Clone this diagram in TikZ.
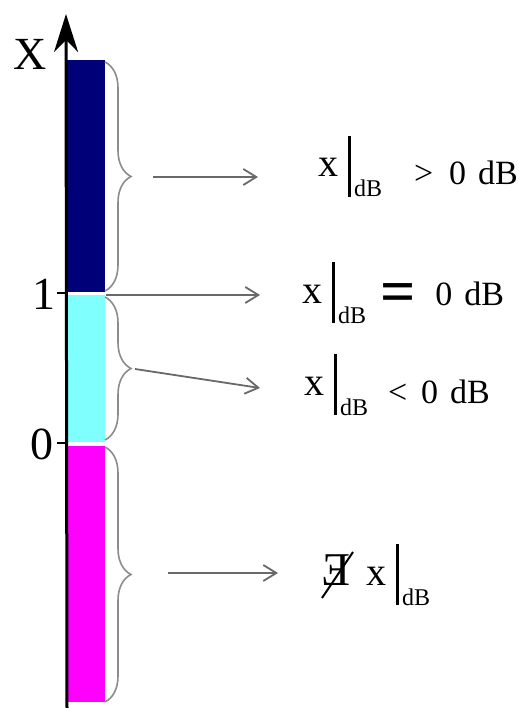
\documentclass[tikz,border=0pt]{standalone}
\usepackage{fontspec}
\setmainfont{Liberation Serif}
\usetikzlibrary{arrows.meta,decorations.pathreplacing}
\definecolor{barnavy}{RGB}{0,0,120}
\definecolor{barcyan}{RGB}{128,255,255}
\definecolor{barmag}{RGB}{255,0,255}
\definecolor{brgray}{RGB}{140,140,140}
\definecolor{argray}{RGB}{105,105,105}
\newcommand{\xdB}{{\fontsize{40}{40}\selectfont x}\hspace{10pt}\rule[-20pt]{2.8pt}{61pt}\hspace{3pt}\raisebox{-20pt}{\fontsize{24}{24}\selectfont dB}}
\tikzset{
  brc/.style={draw=brgray, line width=1.6pt, decorate, decoration={brace, amplitude=26pt}},
  arr/.style={draw=argray, line width=1.8pt, -{Straight Barb[length=13pt,width=16pt,line width=1.8pt]}},
  lbl/.style={inner sep=0pt, anchor=base west},
  axlbl/.style={inner sep=0pt, font=\fontsize{46}{46}\selectfont},
  tick/.style={line width=2.5pt}
}
\begin{document}
\begin{tikzpicture}[x=1pt,y=-1pt]
\useasboundingbox (0,0) rectangle (517,708);
% bars
\fill[barnavy] (67,60) rectangle (105,292);
\fill[barcyan] (67,295) rectangle (105,442);
\fill[barmag] (67,446) rectangle (105,702);
% axis
\coordinate (axbot) at (67,708);
\coordinate (axtop) at (66,14);
\draw[line width=3pt, -{Stealth[length=38pt,width=24pt,inset=12pt]}] (axbot) -- (axtop);
\coordinate (t1a) at (57,293); \coordinate (t1b) at (67,293);
\coordinate (t0a) at (57,443); \coordinate (t0b) at (67,443);
\draw[tick] (t1a) -- (t1b);
\draw[tick] (t0a) -- (t0b);
\node[axlbl, anchor=base east] (one) at (56,309) {1};
\node[axlbl, anchor=base east] (zero) at (54,459) {0};
\node[axlbl, anchor=base west] (X) at (13,70) {X};
% braces
\coordinate (b1s) at (105,62);  \coordinate (b1e) at (105,291);
\coordinate (b2s) at (105,297); \coordinate (b2e) at (105,440);
\coordinate (b3s) at (105,447); \coordinate (b3e) at (105,702);
\draw[brc] (b1s) -- (b1e);
\draw[brc] (b2s) -- (b2e);
\draw[brc] (b3s) -- (b3e);
% labels
\node[lbl] (L1) at (318,177) {\xdB\hspace{32pt}\raisebox{-8pt}{\fontsize{34}{34}\selectfont >\hspace{16pt}0\hspace{12pt}dB}};
\node[lbl] (L2) at (302,303) {\xdB\hspace{14pt}\raisebox{-9pt}{\fontsize{62}{62}\selectfont\bfseries =}\hspace{20pt}\raisebox{-2pt}{\fontsize{34}{34}\selectfont 0\hspace{12pt}dB}};
\node[lbl] (L3) at (304,395) {\xdB\hspace{20pt}\raisebox{-8pt}{\fontsize{34}{34}\selectfont <\hspace{14pt}0\hspace{12pt}dB}};
\node[lbl] (E) at (322,585) {\fontsize{47}{47}\selectfont\reflectbox{E}};
\node[lbl] (L4) at (366,585) {\xdB};
\coordinate (sl1) at (322,598); \coordinate (sl2) at (353,552);
\draw[line width=2pt] (sl1) -- (sl2);
% arrows
\coordinate (a1s) at (153,177); \coordinate (a1e) at (258,177);
\coordinate (a2s) at (106,295); \coordinate (a2e) at (260,295);
\coordinate (a3s) at (135,369); \coordinate (a3e) at (260,388);
\coordinate (a4s) at (168,573); \coordinate (a4e) at (278,573);
\draw[arr] (a1s) -- (a1e);
\draw[arr] (a2s) -- (a2e);
\draw[arr] (a3s) -- (a3e);
\draw[arr] (a4s) -- (a4e);
\end{tikzpicture}
\end{document}
